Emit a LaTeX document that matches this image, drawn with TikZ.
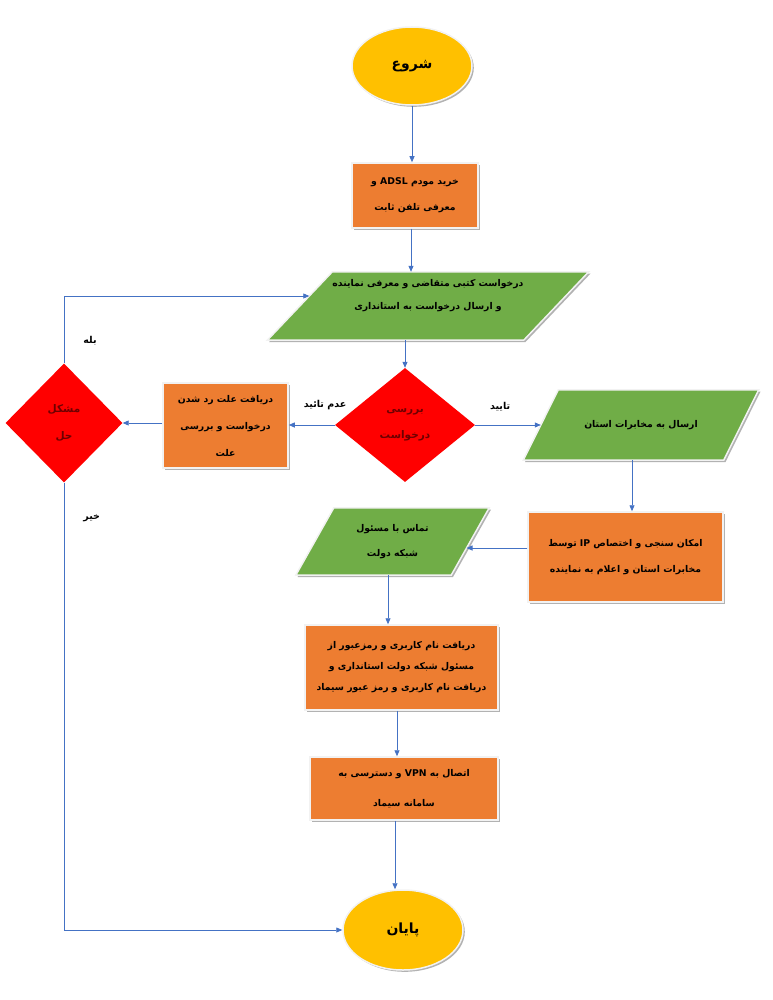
\documentclass[tikz,border=0pt]{standalone}
\usepackage{fontspec}
\usetikzlibrary{shapes.geometric,arrows.meta,shadows,backgrounds,calc}
\TeXXeTstate=1
\newfontfamily\arabicfont[Script=Arabic]{DejaVu Sans}
\newcommand{\fa}[1]{\beginR #1\endR}
\definecolor{orng}{HTML}{ED7D31}
\definecolor{grn}{HTML}{70AD47}
\definecolor{gld}{HTML}{FFC000}
\definecolor{rd}{HTML}{FF0000}
\definecolor{dkrd}{HTML}{6E0000}
\definecolor{lnblue}{HTML}{4472C4}
\definecolor{rim}{HTML}{F2F2F2}
\tikzset{
  arr/.style={draw=lnblue, line width=0.8pt, -{Triangle[length=6pt,width=5pt]}},
  procbox/.style={rectangle, fill=orng, draw=rim, line width=1.5pt,
    drop shadow={shadow xshift=1.8pt, shadow yshift=-1.8pt, fill=black!30, opacity=1},
    inner sep=0pt, align=center, font={\arabicfont\bfseries\fontsize{9.3}{#1}\selectfont}},
  procbox/.default=24,
  terminal/.style={ellipse, fill=gld, draw=rim, line width=1.5pt,
    drop shadow={shadow xshift=1.8pt, shadow yshift=-1.8pt, fill=black!30, opacity=1},
    inner sep=0pt, font={\arabicfont\bfseries\fontsize{14}{17}\selectfont}},
  decision/.style={diamond, fill=rd, inner sep=0pt, align=center, text=dkrd,
    font={\arabicfont\bfseries\fontsize{10.5}{#1}\selectfont}},
  decision/.default=26,
  iobox/.style={rectangle, inner sep=0pt, align=center,
    font={\arabicfont\bfseries\fontsize{9.3}{#1}\selectfont}},
  iobox/.default=24,
  lbl/.style={font={\arabicfont\bfseries\fontsize{9.5}{11}\selectfont}, inner sep=1pt},
}
\newcommand{\drawpara}[3]{%
  \begin{scope}[on background layer]
    \fill[black!30] ([xshift=#2pt+1.8pt,yshift=-1.8pt]#1.north west) -- ([xshift=#2pt+1.8pt,yshift=-1.8pt]#1.north east)
      -- ([xshift=-#2pt+1.8pt,yshift=-1.8pt]#1.south east) -- ([xshift=-#2pt+1.8pt,yshift=-1.8pt]#1.south west) -- cycle;
    \filldraw[fill=#3, draw=rim, line width=1.5pt] ([xshift=#2pt]#1.north west) -- ([xshift=#2pt]#1.north east)
      -- ([xshift=-#2pt]#1.south east) -- ([xshift=-#2pt]#1.south west) -- cycle;
  \end{scope}}
\begin{document}
\begin{tikzpicture}[x=1pt,y=-1pt]
\useasboundingbox (0,0) rectangle (772,1000);

\node[terminal, minimum width=120pt, minimum height=78pt] (start) at (412,66) {\fa{شروع}};
\node[procbox=26, minimum width=126pt, minimum height=65pt] (b1) at (415,195.5)
  {\fa{خرید مودم \beginL ADSL\endL{} و}\\\fa{معرفی تلفن ثابت}};
\node[iobox=23, minimum width=256pt, minimum height=68pt] (p1) at (428,306)
  {\fa{درخواست کتبی متقاضی و معرفی نماینده}\\\fa{و ارسال درخواست به استانداری}\\\mbox{}};
\drawpara{p1}{32.5}{grn}
\coordinate (p1in) at ($(p1.west)+(9.5,-10)$);

\node[decision, minimum width=140pt, minimum height=114pt] (d1) at (405,425) {\fa{بررسی}\\\fa{درخواست}};
\node[procbox=27, minimum width=125pt, minimum height=85pt] (b2) at (225.5,425.5)
  {\fa{دریافت علت رد شدن}\\\fa{درخواست و بررسی}\\\fa{علت}};
\node[decision=27, minimum width=117pt, minimum height=119pt] (d2) at (64,423) {\fa{مشکل}\\\fa{حل}};

\node[iobox, minimum width=200pt, minimum height=70pt] (p2) at (641,425) {\fa{ارسال به مخابرات استان}};
\drawpara{p2}{17.5}{grn}
\node[procbox=26, minimum width=195pt, minimum height=90pt] (b5) at (625.5,557)
  {\fa{امکان سنجی و اختصاص \beginL IP\endL{} توسط}\\\fa{مخابرات استان و اعلام به نماینده}};
\node[iobox=25, minimum width=155pt, minimum height=67pt] (p3) at (392.5,541.5)
  {\fa{تماس با مسئول}\\\fa{شبکه دولت}};
\drawpara{p3}{19}{grn}
\coordinate (p3in) at ($(p3.east)+(-3.7,6.5)$);
\node[procbox=21, minimum width=193pt, minimum height=85pt] (b6) at (401.5,667.5)
  {\fa{دریافت نام کاربری و رمزعبور از}\\\fa{مسئول شبکه دولت استانداری و}\\\fa{دریافت نام کاربری و رمز عبور سیماد}};
\node[procbox=30, minimum width=188pt, minimum height=63pt] (b7) at (404,788.5)
  {\fa{اتصال به \beginL VPN\endL{} و دسترسی به}\\\fa{سامانه سیماد}};
\node[terminal, minimum width=120pt, minimum height=80pt] (end) at (403,930) {\fa{پایان}};

\draw[arr] (start.south) -- (start.south |- b1.north);
\draw[arr] ([xshift=-4pt]b1.south) -- ([xshift=-4pt]b1.south |- p1.north);
\draw[arr] (d1.north |- p1.south) -- (d1.north);
\draw[arr] (d1.west) -- (d1.west -| b2.east) node[lbl, pos=0.21, yshift=20pt] {\fa{عدم تائید}};
\draw[arr] (b2.west |- d2.east) -- (d2.east);
\draw[arr] (d2.north) |- (p1in) node[lbl, pos=0.17, right=18pt] {\fa{بله}};
\draw[arr] (d2.south) |- (end.west) node[lbl, pos=0.04, right=18pt] {\fa{خیر}};
\draw[arr] (d1.east) -- (d1.east -| p2.west) node[lbl, pos=0.38, yshift=18pt] {\fa{تایید}};
\draw[arr] ([xshift=-9pt]p2.south) -- ([xshift=-9pt]p2.south |- b5.north);
\draw[arr] (b5.west |- p3in) -- (p3in);
\draw[arr] ([xshift=-4.5pt]p3.south) -- ([xshift=-4.5pt]p3.south |- b6.north);
\draw[arr] ([xshift=-4.5pt]b6.south) -- ([xshift=-4.5pt]b6.south |- b7.north);
\draw[arr] ([xshift=-9pt]b7.south) -- ([xshift=-9pt]b7.south |- end.north);
\end{tikzpicture}
\end{document}
